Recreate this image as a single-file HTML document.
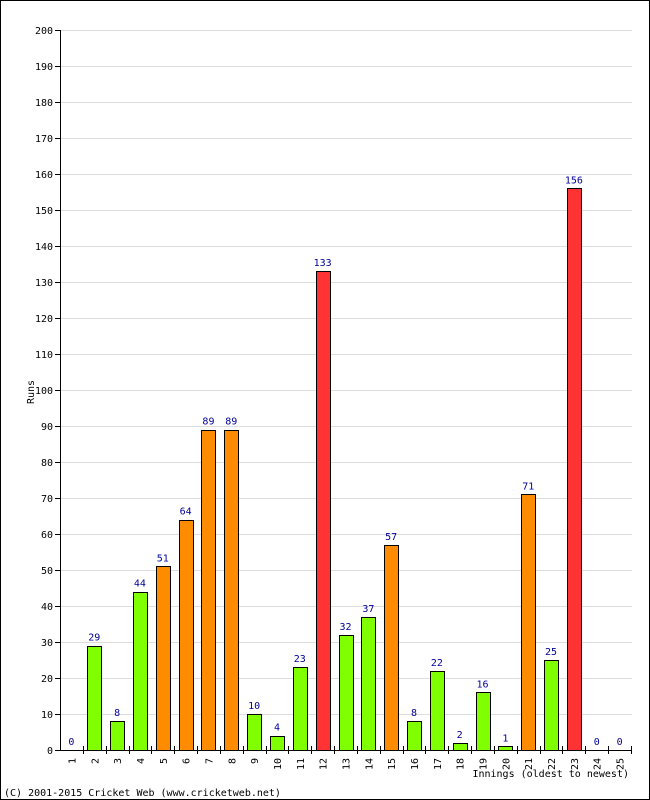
<!DOCTYPE html>
<html><head><meta charset="utf-8"><style>
body{margin:0;background:#fff}
svg{display:block;font-family:"DejaVu Sans Mono","Liberation Mono",monospace}
</style></head><body>
<svg id="c" width="650" height="800">
<rect x="0.5" y="0.5" width="649" height="799" fill="#fff" stroke="#000"/>
<g id="g"></g>
<text x="34" y="392" font-size="10" text-anchor="middle" transform="rotate(-90 34 392)">Runs</text>
<text x="629" y="777" font-size="10" text-anchor="end">Innings (oldest to newest)</text>
<text x="4" y="796" font-size="10">(C) 2001-2015 Cricket Web (www.cricketweb.net)</text>
</svg>
<script>
const categories=["1","2","3","4","5","6","7","8","9","10","11","12","13","14","15","16","17","18","19","20","21","22","23","24","25"];
const runs=[0,29,8,44,51,64,89,89,10,4,23,133,32,37,57,8,22,2,16,1,71,25,156,0,0];
const yTicks=[0,10,20,30,40,50,60,70,80,90,100,110,120,130,140,150,160,170,180,190,200];
const NS="http://www.w3.org/2000/svg",g=document.getElementById('g');
const x0=60,x1=631,y0=750,y1=30,yMax=200;
const sw=(x1-x0)/categories.length;
const y=v=>y0-(v/yMax)*(y0-y1);
const xc=i=>x0+sw*(i+0.5);
function mk(t,a){const e=document.createElementNS(NS,t);for(const k in a)e.setAttribute(k,a[k]);g.appendChild(e);return e;}
yTicks.forEach(v=>{
 if(v>0){const l=mk('line',{x1:x0,x2:632,y1:y(v)+0.5,y2:y(v)+0.5,stroke:'#ddd'});
 
 }
 const t=mk('line',{x1:x0-5,x2:x0,y1:y(v)+0.5,y2:y(v)+0.5,stroke:'#000'});
 
 
 const tx=mk('text',{x:x0-7,y:y(v)+4,'font-size':10,'text-anchor':'end'});tx.textContent=v;
 
 
});
categories.forEach((c,i)=>{
 const v=runs[i];
 const col=v>=100?'#ff3333':v>=50?'#ff8c00':'#80ff00';
 if(v>0){const r=mk('rect',{x:Math.round(xc(i)-7)+0.5,y:Math.round(y(v))+0.5,width:14,height:y0-Math.round(y(v)),fill:col,stroke:'#000'});
 
 }
 const vl=mk('text',{x:xc(i),y:y(v)-5,'font-size':10,'text-anchor':'middle',fill:'#000099'});vl.textContent=v;
 
 
 const tk=mk('line',{x1:Math.round(x0+sw*(i+1))+0.5,x2:Math.round(x0+sw*(i+1))+0.5,y1:y0-4,y2:y0+4,stroke:'#000'});
 
 
 const xl=mk('text',{x:0,y:0,'font-size':10,'text-anchor':'end',transform:`translate(${xc(i)+4},${y0+8}) rotate(-90)`});xl.textContent=c;
 
 
});
const ax=mk('line',{x1:x0+0.5,x2:x0+0.5,y1:y1,y2:y0,stroke:'#000'});


const bx=mk('line',{x1:x0,x2:x1+1,y1:y0+0.5,y2:y0+0.5,stroke:'#000'});


</script>
</body></html>
